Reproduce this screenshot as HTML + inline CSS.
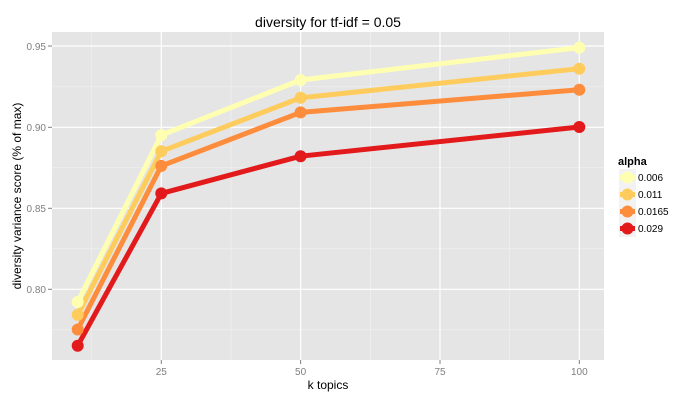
<!DOCTYPE html>
<html><head><style>body{margin:0;background:#fff}</style></head><body>
<svg width="700" height="400" xmlns="http://www.w3.org/2000/svg" font-family="Liberation Sans, sans-serif">
<rect x="52" y="32" width="552" height="328" fill="#e5e5e5"/>
<g stroke="#f2f2f2" stroke-width="0.6">
<line x1="52" x2="604" y1="86.5" y2="86.5"/><line x1="52" x2="604" y1="167.8" y2="167.8"/><line x1="52" x2="604" y1="248.8" y2="248.8"/><line x1="52" x2="604" y1="329.8" y2="329.8"/>
<line x1="91.6" x2="91.6" y1="32" y2="360"/><line x1="231" x2="231" y1="32" y2="360"/><line x1="370.3" x2="370.3" y1="32" y2="360"/><line x1="509.6" x2="509.6" y1="32" y2="360"/>
</g>
<g stroke="#fff" stroke-width="1.2">
<line x1="52" x2="604" y1="46" y2="46"/><line x1="52" x2="604" y1="127.3" y2="127.3"/><line x1="52" x2="604" y1="208.3" y2="208.3"/><line x1="52" x2="604" y1="289.3" y2="289.3"/>
<line x1="161.3" x2="161.3" y1="32" y2="360"/><line x1="300.6" x2="300.6" y1="32" y2="360"/><line x1="440" x2="440" y1="32" y2="360"/><line x1="579.3" x2="579.3" y1="32" y2="360"/>
</g>
<g fill="none" stroke-width="5" stroke-linejoin="round">
<polyline stroke="#FFFFB2" points="77.7,302 161.3,135.1 300.6,80 579.3,47.6"/>
<polyline stroke="#FECC5C" points="77.7,314.9 161.3,151.3 300.6,97.8 579.3,68.7"/>
<polyline stroke="#FD8D3C" points="77.7,329.5 161.3,165.9 300.6,112.4 579.3,89.7"/>
<polyline stroke="#E31A1C" points="77.7,345.7 161.3,193.4 300.6,156.2 579.3,127"/>
</g>
<g fill="#FFFFB2"><circle cx="77.7" cy="302" r="6"/><circle cx="161.3" cy="135.1" r="6"/><circle cx="300.6" cy="80" r="6"/><circle cx="579.3" cy="47.6" r="6"/></g>
<g fill="#FECC5C"><circle cx="77.7" cy="314.9" r="6"/><circle cx="161.3" cy="151.3" r="6"/><circle cx="300.6" cy="97.8" r="6"/><circle cx="579.3" cy="68.7" r="6"/></g>
<g fill="#FD8D3C"><circle cx="77.7" cy="329.5" r="6"/><circle cx="161.3" cy="165.9" r="6"/><circle cx="300.6" cy="112.4" r="6"/><circle cx="579.3" cy="89.7" r="6"/></g>
<g fill="#E31A1C"><circle cx="77.7" cy="345.7" r="6"/><circle cx="161.3" cy="193.4" r="6"/><circle cx="300.6" cy="156.2" r="6"/><circle cx="579.3" cy="127" r="6"/></g>
<g stroke="#7f7f7f" stroke-width="1">
<line x1="48" x2="52" y1="46" y2="46"/><line x1="48" x2="52" y1="127.3" y2="127.3"/><line x1="48" x2="52" y1="208.3" y2="208.3"/><line x1="48" x2="52" y1="289.3" y2="289.3"/>
<line x1="161.3" x2="161.3" y1="360" y2="364"/><line x1="300.6" x2="300.6" y1="360" y2="364"/><line x1="440" x2="440" y1="360" y2="364"/><line x1="579.3" x2="579.3" y1="360" y2="364"/>
</g>
<g fill="#7f7f7f" font-size="10" text-anchor="end">
<text x="46" y="50">0.95</text><text x="46" y="131">0.90</text><text x="46" y="212">0.85</text><text x="46" y="293">0.80</text>
</g>
<g fill="#7f7f7f" font-size="10" text-anchor="middle">
<text x="161.3" y="375">25</text><text x="300.6" y="375">50</text><text x="440" y="375">75</text><text x="579.3" y="375">100</text>
</g>
<text x="328" y="389" font-size="12" text-anchor="middle">k topics</text>
<text transform="translate(21,196) rotate(-90)" font-size="12" text-anchor="middle">diversity variance score (% of max)</text>
<text x="328" y="27" font-size="14" text-anchor="middle">diversity for tf-idf = 0.05</text>
<text x="618" y="165" font-size="11" font-weight="bold">alpha</text>
<g fill="#f2f2f2"><rect x="619" y="169" width="17" height="17"/><rect x="619" y="186" width="17" height="17"/><rect x="619" y="203" width="17" height="17"/><rect x="619" y="220" width="17" height="17"/></g>
<g stroke-width="5">
<line x1="620" x2="635" y1="177.5" y2="177.5" stroke="#FFFFB2"/><line x1="620" x2="635" y1="194.5" y2="194.5" stroke="#FECC5C"/><line x1="620" x2="635" y1="211.5" y2="211.5" stroke="#FD8D3C"/><line x1="620" x2="635" y1="228.5" y2="228.5" stroke="#E31A1C"/>
</g>
<circle cx="627.5" cy="177.5" r="6" fill="#FFFFB2"/><circle cx="627.5" cy="194.5" r="6" fill="#FECC5C"/><circle cx="627.5" cy="211.5" r="6" fill="#FD8D3C"/><circle cx="627.5" cy="228.5" r="6" fill="#E31A1C"/>
<g font-size="10" fill="#000">
<text x="638" y="181">0.006</text><text x="638" y="198">0.011</text><text x="638" y="215">0.0165</text><text x="638" y="232">0.029</text>
</g>
</svg>
</body></html>
